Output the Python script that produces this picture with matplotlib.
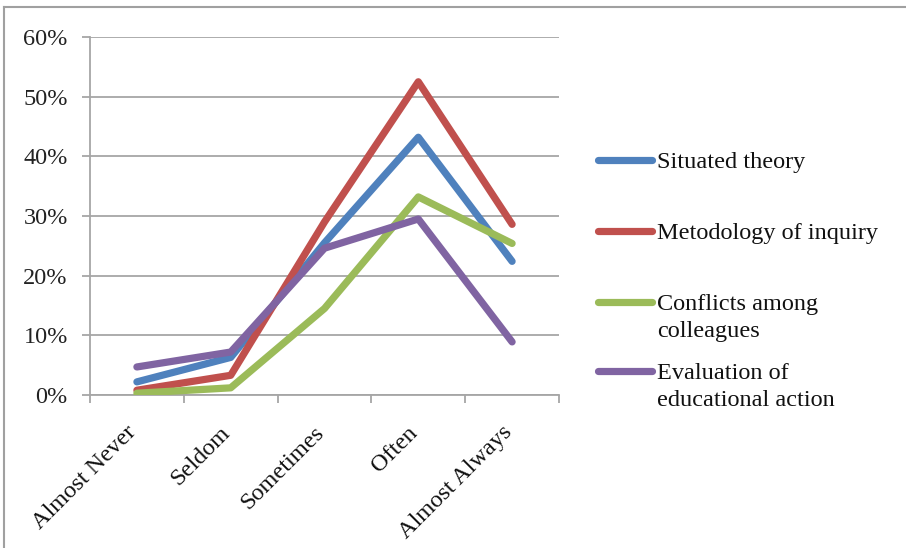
import matplotlib
matplotlib.use("Agg")
import matplotlib.pyplot as plt
from matplotlib.lines import Line2D
from matplotlib.ticker import PercentFormatter

categories = ["Almost Never", "Seldom", "Sometimes", "Often", "Almost Always"]
series_names = ["Situated theory", "Metodology of inquiry",
                "Conflicts among\ncolleagues", "Evaluation of\neducational action"]
situated_theory = [2.2, 6.3, 25.5, 43.2, 22.4]
metodology_inquiry = [0.8, 3.3, 29.0, 52.5, 28.6]
conflicts_colleagues = [0.3, 1.2, 14.5, 33.2, 25.4]
evaluation_action = [4.7, 7.2, 24.6, 29.5, 8.9]
series_values = [situated_theory, metodology_inquiry, conflicts_colleagues, evaluation_action]
colors = ["#4F81BD", "#C0504D", "#9BBB59", "#8064A2"]
y_ticks = [0, 10, 20, 30, 40, 50, 60]

W, H = 906, 548
plt.rcParams['font.family'] = ['Liberation Serif', 'DejaVu Serif']
fig = plt.figure(figsize=(W / 100, H / 100), dpi=100)

def fx(px):
    return px / W

def fy(py):
    return 1 - py / H

FS = 17.5
ax = fig.add_axes([fx(90), fy(395), fx(559) - fx(90), fy(37) - fy(395)])
grid_c = "#a6a6a6"
x = list(range(len(categories)))
for vals, c in zip(series_values, colors):
    ax.plot(x, vals, color=c, lw=5.2, solid_capstyle="round", solid_joinstyle="round",
            zorder=3)

ax.set_xlim(-0.5, len(categories) - 0.5)
ax.set_ylim(0, 60)
ax.set_yticks(y_ticks)
ax.yaxis.set_major_formatter(PercentFormatter(decimals=0))

# Category labels: slanted, right end tucked under each category position
ax.set_xticks(x)
ax.set_xticklabels([])
for i, cat in enumerate(categories):
    ax.annotate(cat, xy=(i, 0), xycoords=ax.get_xaxis_transform(),
                xytext=(-11, -27), textcoords="offset pixels",
                rotation=45, ha="right", va="top", rotation_mode="anchor",
                fontsize=FS, color="#111111", annotation_clip=False)
ax.set_xticks([i - 0.5 for i in range(len(categories) + 1)], minor=True)
ax.tick_params(axis="x", which="major", length=0)
ax.tick_params(axis="x", which="minor", length=6, color=grid_c, width=1.3, direction="out")
ax.tick_params(axis="y", length=6, color=grid_c, width=1.3, labelsize=FS, pad=10,
               labelcolor="#222222")
ax.grid(axis="y", color=grid_c, lw=1.3, zorder=0)
for side in ["top", "right"]:
    ax.spines[side].set_visible(False)
for side in ["left", "bottom"]:
    ax.spines[side].set_color(grid_c)
    ax.spines[side].set_linewidth(1.3)

# Legend entries drawn by hand so each handle sits on the first text line
legend_rows = [160, 231, 302, 371]
line_gap = 27
for name, c, yy in zip(series_names, colors, legend_rows):
    fig.add_artist(Line2D([fx(598), fx(652)], [fy(yy), fy(yy)], color=c, lw=5.2,
                          solid_capstyle="round"))
    for k, part in enumerate(name.split("\n")):
        fig.text(fx(657), fy(yy + k * line_gap), part, fontsize=FS, ha="left",
                 va="center_baseline", color="#111111")

# Chart-area border (top and left edges)
fig.add_artist(Line2D([fx(4), fx(906)], [fy(7), fy(7)], color="#a0a0a0", lw=1.5))
fig.add_artist(Line2D([fx(4), fx(4)], [fy(7), fy(548)], color="#a0a0a0", lw=1.5))

fig.savefig("out.png", dpi=100)
